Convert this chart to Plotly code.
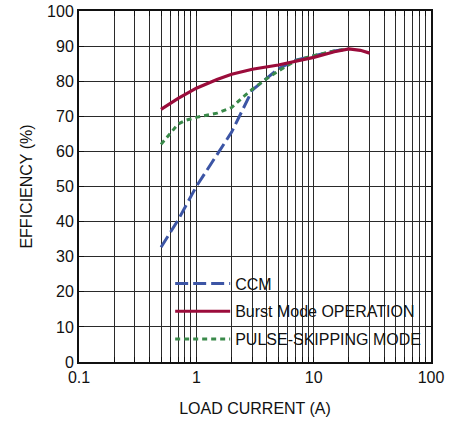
import plotly.graph_objects as go

# ---- data ----
ccm_x = [0.5, 0.7, 1, 1.5, 2, 3, 4, 5, 7, 10, 15, 20]
ccm_y = [32.7, 40.5, 50, 59, 65.5, 77.5, 81, 83.5, 86, 87.3, 88.6, 89.2]

burst_x = [0.5, 0.7, 1, 1.5, 2, 3, 5, 7, 10, 15, 20, 25, 30]
burst_y = [72, 75.1, 78, 80.5, 82, 83.4, 84.6, 85.6, 86.8, 88.4, 89.2, 88.8, 88]

pulse_x = [0.5, 0.6, 0.7, 0.8, 1, 1.5, 2, 2.5, 3, 4, 5, 7, 10, 15, 20]
pulse_y = [62, 65.2, 67.8, 68.8, 69.7, 70.9, 72.5, 75.5, 77.7, 80.8, 82.9, 85.8, 87.3, 88.6, 89.2]

x_major = [0.1, 1, 10, 100]
x_major_text = ["0.1", "1", "10", "100"]
x_minor = [m * d for d in (0.1, 1, 10) for m in range(2, 10)]
y_ticks = list(range(0, 101, 10))

FONT = "Liberation Sans, Arial, sans-serif"
GRID = "#2a2a2a"

fig = go.Figure()
fig.add_trace(go.Scatter(x=ccm_x, y=ccm_y, mode="lines", name="CCM", legendgroup="a",
                         legendrank=1,
                         line=dict(color="#3c55a5", width=3, dash="13px,5px")))
fig.add_trace(go.Scatter(x=pulse_x, y=pulse_y, mode="lines", name="PULSE-SKIPPING MODE",
                         legendgroup="c", legendrank=3,
                         line=dict(color="#3a8a4a", width=3, dash="5px,4px")))
fig.add_trace(go.Scatter(x=burst_x, y=burst_y, mode="lines", name="Burst Mode OPERATION",
                         legendgroup="b", legendrank=2,
                         line=dict(color="#9b0c3b", width=3.2)))

# white legend background that hides the grid but not the ticks
fig.add_shape(type="rect", xref="paper", yref="paper", x0=0.25, x1=1, y0=0, y1=0.272,
              fillcolor="white", line=dict(width=0), layer="between")

fig.update_layout(
    width=461, height=421,
    margin=dict(l=79, r=30, t=11, b=59, autoexpand=False),
    paper_bgcolor="white", plot_bgcolor="white",
    font=dict(family=FONT, size=16, color="#111"),
    showlegend=True,
    legend=dict(x=0.259, y=0.272, xanchor="left", yanchor="top",
                bgcolor="rgba(0,0,0,0)", borderwidth=0,
                font=dict(family=FONT, size=16, color="#111"),
                tracegroupgap=4, traceorder="grouped", itemwidth=55),
)
fig.update_xaxes(
    type="log", range=[-1, 2], automargin=False,
    tickmode="array", tickvals=x_major, ticktext=x_major_text,
    showgrid=True, gridcolor=GRID, gridwidth=1.2,
    ticks="inside", ticklen=5, tickcolor="#111", tickwidth=1,
    minor=dict(tickmode="array", tickvals=x_minor, showgrid=True, gridcolor=GRID,
               gridwidth=1.2, ticks="inside", ticklen=5, tickcolor="#111"),
    showline=True, linecolor="#111", linewidth=2, mirror="allticks",
    zeroline=False,
    title=dict(text="LOAD CURRENT (A)", font=dict(size=16), standoff=18),
    tickfont=dict(size=16),
)
fig.update_yaxes(
    range=[0, 100], tickmode="array", tickvals=y_ticks, automargin=False,
    showgrid=True, gridcolor=GRID, gridwidth=1.2,
    ticks="inside", ticklen=5, tickcolor="#111", tickwidth=1,
    showline=True, linecolor="#111", linewidth=2, mirror="allticks",
    zeroline=False,
    title=dict(text="EFFICIENCY (%)", font=dict(size=16), standoff=10),
    tickfont=dict(size=16),
)

fig.write_html("out.html", config={"displayModeBar": False},
               post_script="document.body.style.margin='0';")
